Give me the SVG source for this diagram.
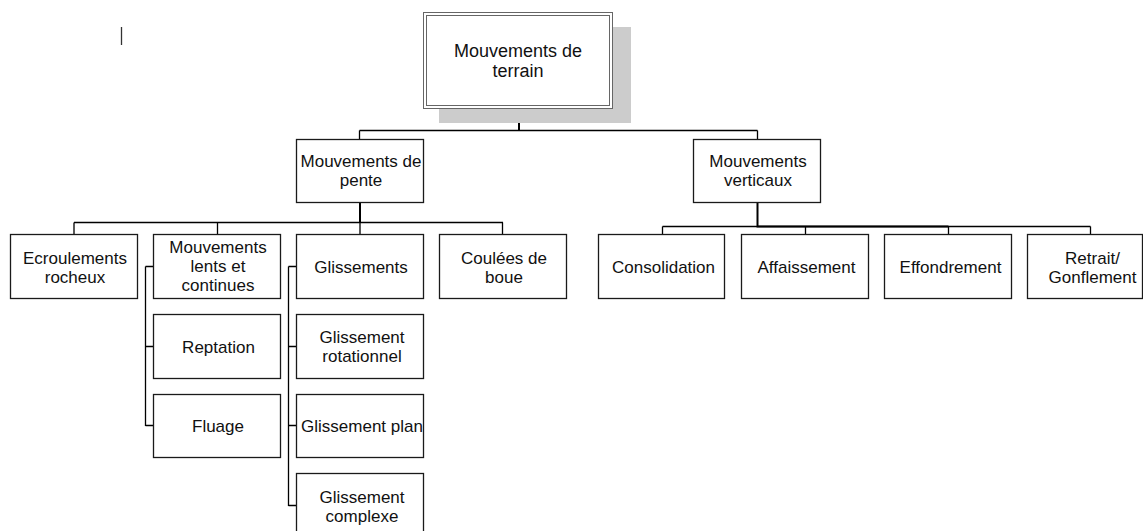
<svg xmlns="http://www.w3.org/2000/svg" width="1143" height="531" viewBox="0 0 1143 531">
  <style>
    .box { fill: #ffffff; stroke: #1a1a1a; stroke-width: 1.3; }
    .frame { fill: none; stroke: #666666; stroke-width: 1; }
    .shadow { fill: #cccccc; stroke: none; }
    .lbl { font-family: "Liberation Sans", Arial, sans-serif; font-size: 17px; fill: #111111; text-anchor: middle; }
    .big { font-size: 18px; }
    .wire { fill: none; stroke: #000000; stroke-width: 1.3; }
    .wire2 { fill: none; stroke: #000000; stroke-width: 2; }
  </style>

  <!-- small vertical mark at top left -->
  <line x1="121.5" y1="27" x2="121.5" y2="45" stroke="#333333" stroke-width="1.3"/>

  <!-- connectors -->
  <g id="connectors">
    <path class="wire2" d="M519,108.5 V130.5"/>
    <path class="wire" d="M359.5,130.5 H757.5 M359.5,130.5 V139.5 M757.5,130.5 V139.5"/>

    <path class="wire2" d="M360,202.5 V222.5"/>
    <path class="wire" d="M74,222.5 H503 M74,222.5 V234.5 M217.5,222.5 V234.5 M360,222.5 V234.5 M502.5,222.5 V234.5"/>

    <path class="wire2" d="M757.5,202.5 V226.5 H948.5"/>
    <path class="wire" d="M662.5,226.5 H1090.5 M662.5,226.5 V234.5 M805.5,226.5 V234.5 M948.5,226.5 V234.5 M1090.5,226.5 V234.5"/>

    <path class="wire" d="M145.5,266.5 V426 M145.5,266.5 H153.5 M145.5,346.5 H153.5 M145.5,425.5 H153.5"/>
    <path class="wire" d="M288.5,266.5 V506 M288.5,266.5 H296.5 M288.5,346.5 H296.5 M288.5,425.5 H296.5 M288.5,505.5 H296.5"/>
  </g>

  <!-- root -->
  <g id="n-terrain">
    <rect class="shadow" x="439" y="27" width="192" height="96"/>
    <rect x="423.5" y="12.5" width="189" height="96" fill="#ffffff" stroke="#666666" stroke-width="1"/>
    <rect class="frame" x="426.5" y="15.5" width="183" height="90"/>
    <text class="lbl big" x="518" y="56.5">Mouvements de</text>
    <text class="lbl big" x="518" y="76.5">terrain</text>
  </g>

  <!-- level 1 -->
  <g id="n-pente">
    <rect class="box" x="296.5" y="139.5" width="127" height="63"/>
    <text class="lbl" x="361" y="167">Mouvements de</text>
    <text class="lbl" x="361" y="186.3">pente</text>
  </g>
  <g id="n-verticaux">
    <rect class="box" x="693.5" y="139.5" width="127" height="63"/>
    <text class="lbl" x="758" y="167">Mouvements</text>
    <text class="lbl" x="758" y="186.3">verticaux</text>
  </g>

  <!-- level 2, slope movements -->
  <g id="n-ecroulements">
    <rect class="box" x="10.5" y="234.5" width="127" height="64"/>
    <text class="lbl" x="75" y="263.5">Ecroulements</text>
    <text class="lbl" x="75" y="282.8">rocheux</text>
  </g>
  <g id="n-lents">
    <rect class="box" x="153.5" y="234.5" width="127" height="64"/>
    <text class="lbl" x="218" y="252.5">Mouvements</text>
    <text class="lbl" x="218" y="271.8">lents et</text>
    <text class="lbl" x="218" y="291.1">continues</text>
  </g>
  <g id="n-glissements">
    <rect class="box" x="296.5" y="234.5" width="127" height="64"/>
    <text class="lbl" x="361" y="272.5">Glissements</text>
  </g>
  <g id="n-coulees">
    <rect class="box" x="439.5" y="234.5" width="127" height="64"/>
    <text class="lbl" x="504" y="263.5">Coulées de</text>
    <text class="lbl" x="504" y="282.8">boue</text>
  </g>

  <!-- level 2, vertical movements -->
  <g id="n-consolidation">
    <rect class="box" x="598.5" y="234.5" width="126" height="64"/>
    <text class="lbl" x="663.5" y="272.5">Consolidation</text>
  </g>
  <g id="n-affaissement">
    <rect class="box" x="741.5" y="234.5" width="127" height="64"/>
    <text class="lbl" x="806.5" y="272.5">Affaissement</text>
  </g>
  <g id="n-effondrement">
    <rect class="box" x="884.5" y="234.5" width="127" height="64"/>
    <text class="lbl" x="950.5" y="272.5">Effondrement</text>
  </g>
  <g id="n-retrait">
    <rect class="box" x="1027.5" y="234.5" width="115" height="64"/>
    <text class="lbl" x="1092.5" y="263.5">Retrait/</text>
    <text class="lbl" x="1092.5" y="282.8">Gonflement</text>
  </g>

  <!-- slow movements -->
  <g id="n-reptation">
    <rect class="box" x="153.5" y="314.5" width="127" height="64"/>
    <text class="lbl" x="218.5" y="352.5">Reptation</text>
  </g>
  <g id="n-fluage">
    <rect class="box" x="153.5" y="394.5" width="127" height="63"/>
    <text class="lbl" x="218" y="432">Fluage</text>
  </g>

  <!-- slides -->
  <g id="n-rotationnel">
    <rect class="box" x="296.5" y="314.5" width="127" height="64"/>
    <text class="lbl" x="362" y="343">Glissement</text>
    <text class="lbl" x="362" y="362.3">rotationnel</text>
  </g>
  <g id="n-plan">
    <rect class="box" x="296.5" y="394.5" width="127" height="63"/>
    <text class="lbl" x="362" y="432">Glissement plan</text>
  </g>
  <g id="n-complexe">
    <rect class="box" x="296.5" y="473.5" width="127" height="64"/>
    <text class="lbl" x="362" y="502.5">Glissement</text>
    <text class="lbl" x="362" y="521.8">complexe</text>
  </g>
</svg>
